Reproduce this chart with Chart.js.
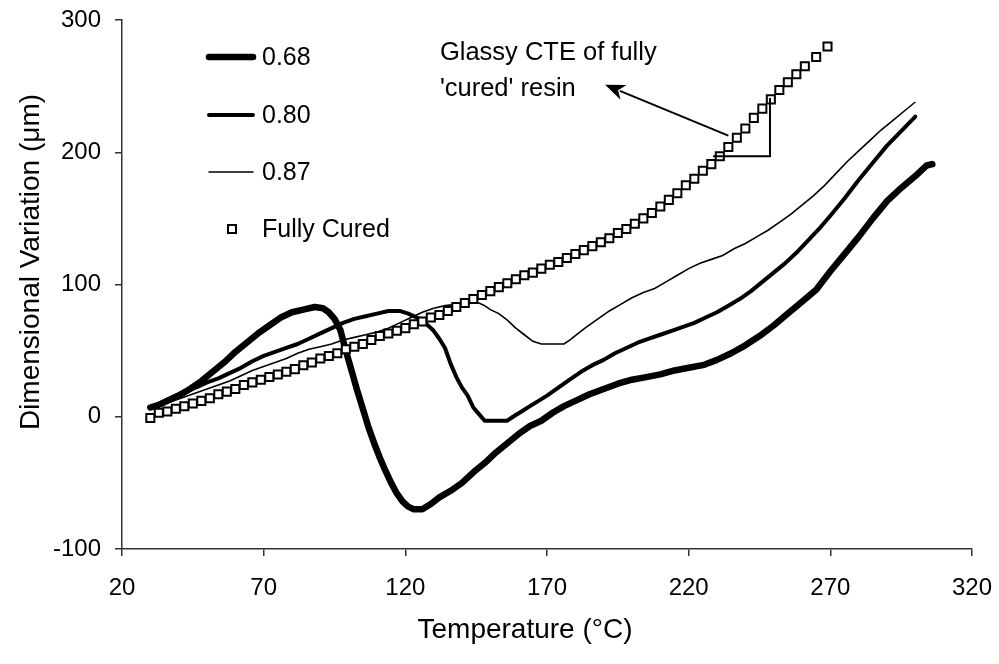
<!DOCTYPE html>
<html>
<head>
<meta charset="utf-8">
<script src="https://cdn.jsdelivr.net/npm/chart.js@4/dist/chart.umd.min.js"></script>
<style>
  html, body { margin: 0; padding: 0; background: #fff; }
  canvas { display: block; }
</style>
</head>
<body>
<canvas id="c" width="999" height="664"></canvas>
<script>
// ---- Data ----
const seriesNames = ['0.68', '0.80', '0.87', 'Fully Cured'];

const t068 = [30,33,36,40,44,48,52,56,60,64,68,72,76,80,84,88,91,93,95,97,99,101,103,105,107,109,111,113,115,117,119,121,123,126,129,132,136,140,144,148,152,156,160,164,168,172,176,180,185,190,195,200,205,210,215,220,225,230,235,240,245,250,255,260,265,270,275,280,285,290,295,300,304,306];
const d068 = [7,9,12,16,21,27,34,41,49,56,63,69,75,79,81,83,82,79,74,66,50,35,20,6,-8,-20,-31,-41,-50,-58,-64,-68,-70,-70,-66,-61,-56,-50,-42,-35,-27,-20,-13,-7,-3,3,8,12,17,21,25,28,30,32,35,37,39,43,48,54,61,69,78,87,96,110,123,136,150,163,173,182,190,191];

const t080 = [30,34,38,42,46,50,54,58,62,66,70,74,78,82,86,90,94,98,102,106,110,114,118,121,124,127,130,132,134,136,138,140,142,144,146,148,152,156,158,161,164,167,170,174,178,182,186,190,194,198,202,206,210,214,218,222,226,230,234,238,242,246,250,254,258,262,266,270,275,280,285,290,295,300];
const d080 = [7,11,15,19,22,26,29,33,37,42,46,49,52,55,59,63,67,71,74,76,78,80,80,78,75,71,65,59,52,40,30,22,16,7,2,-3,-3,-3,0,4,8,12,16,22,28,34,39,43,48,52,56,59,62,65,68,71,75,79,84,89,95,102,109,116,124,133,142,152,165,179,192,205,216,227];

const t087 = [30,34,38,42,46,50,54,58,62,66,70,74,78,82,86,90,94,98,102,106,110,114,118,122,126,130,134,138,142,146,148,150,153,156,159,162,165,168,172,176,178,181,184,188,192,196,200,204,208,212,216,220,224,228,232,236,240,244,248,252,256,260,264,268,272,276,280,284,288,292,296,300];
const d087 = [6,9,12,15,18,21,24,27,31,35,38,41,44,48,51,53,55,58,60,62,64,67,71,75,79,82,84,85,86,86,84,81,78,73,67,62,57,55,55,55,58,63,68,74,80,85,90,94,97,102,107,112,116,119,122,127,131,136,141,147,153,160,167,175,184,193,201,209,217,224,231,238];

const tCured = [30,33,36,39,42,45,48,51,54,57,60,63,66,69,72,75,78,81,84,87,90,93,96,99,102,105,108,111,114,117,120,123,126,129,132,135,138,141,144,147,150,153,156,159,162,165,168,171,174,177,180,183,186,189,192,195,198,201,204,207,210,213,216,219,222,225,228,231,234,237,240,243,246,249,252,255,258,261,265,269];
const dCured = [-1,3,4,6,8,10,12,14,17,19,21,24,26,28,30,32,34,36,39,41,44,46,48,51,53,55,58,61,63,65,67,70,72,75,77,80,83,86,89,92,95,98,101,104,107,109,112,115,117,120,123,126,129,132,135,139,142,146,150,154,159,164,169,175,180,186,191,197,204,211,218,226,233,240,247,253,259,265,272,280];

const xTicks = [20, 70, 120, 170, 220, 270, 320];
const yTicks = [-100, 0, 100, 200, 300];

// annotation geometry in data units
const arrowFrom = [234, 212.6];
const arrowTo = [190.5, 251];
const bracketX = [228.6, 248.7];
const bracketY = [197, 241];
const noteLines = ['Glassy CTE of fully', "'cured' resin"];
const noteAt = [132.2, 270, 242.8];

const pts = (xs, ys) => xs.map((x, i) => ({ x: x, y: ys[i] }));

const FONT = "'Liberation Sans', Arial, Helvetica, sans-serif";

const extras = {
  id: 'extras',
  afterDatasetsDraw(chart) {
    const ctx = chart.ctx;
    const xs = chart.scales.x, ys = chart.scales.y;
    ctx.save();
    ctx.strokeStyle = '#000';
    ctx.fillStyle = '#000';
    // bracket
    ctx.lineWidth = 2;
    ctx.beginPath();
    ctx.moveTo(xs.getPixelForValue(bracketX[0]), ys.getPixelForValue(bracketY[0]));
    ctx.lineTo(xs.getPixelForValue(bracketX[1]), ys.getPixelForValue(bracketY[0]));
    ctx.lineTo(xs.getPixelForValue(bracketX[1]), ys.getPixelForValue(bracketY[1]));
    ctx.stroke();
    // arrow
    const x1 = xs.getPixelForValue(arrowFrom[0]), y1 = ys.getPixelForValue(arrowFrom[1]);
    const x2 = xs.getPixelForValue(arrowTo[0]), y2 = ys.getPixelForValue(arrowTo[1]);
    const ang = Math.atan2(y2 - y1, x2 - x1);
    const hl = 20, hw = 8;
    const bx = x2 - hl * Math.cos(ang), by = y2 - hl * Math.sin(ang);
    ctx.beginPath();
    ctx.moveTo(x1, y1);
    ctx.lineTo(bx + 4 * Math.cos(ang), by + 4 * Math.sin(ang));
    ctx.stroke();
    ctx.beginPath();
    ctx.moveTo(x2, y2);
    ctx.lineTo(bx + hw * Math.sin(ang), by - hw * Math.cos(ang));
    ctx.lineTo(bx + 6 * Math.cos(ang), by + 6 * Math.sin(ang));
    ctx.lineTo(bx - hw * Math.sin(ang), by + hw * Math.cos(ang));
    ctx.closePath();
    ctx.fill();
    // note text
    ctx.font = '25.5px ' + FONT;
    ctx.textAlign = 'left';
    ctx.textBaseline = 'alphabetic';
    ctx.fillText(noteLines[0], xs.getPixelForValue(noteAt[0]), ys.getPixelForValue(noteAt[1]));
    ctx.fillText(noteLines[1], xs.getPixelForValue(noteAt[0]), ys.getPixelForValue(noteAt[2]));

    // legend
    const widths = [6.5, 4, 1.5];
    const ly = [57, 115, 172, 229];
    ctx.lineCap = 'round';
    for (let i = 0; i < 3; i++) {
      ctx.lineWidth = widths[i];
      ctx.beginPath();
      ctx.moveTo(209, ly[i]);
      ctx.lineTo(253, ly[i]);
      ctx.stroke();
    }
    ctx.lineWidth = 2;
    ctx.fillStyle = '#fff';
    ctx.fillRect(228, 225, 8, 8);
    ctx.strokeRect(228, 225, 8, 8);
    ctx.fillStyle = '#000';
    ctx.textBaseline = 'middle';
    ctx.font = '25px ' + FONT;
    for (let i = 0; i < 4; i++) {
      ctx.fillText(seriesNames[i], 262, ly[i] + 1);
    }

    // axis titles
    ctx.font = '28px ' + FONT;
    ctx.textAlign = 'center';
    ctx.textBaseline = 'middle';
    ctx.fillText('Temperature (°C)', 525, 630);
    ctx.translate(31, 262);
    ctx.rotate(-Math.PI / 2);
    ctx.fillText('Dimensional Variation (μm)', 0, 0);
    ctx.restore();
  }
};

new Chart(document.getElementById('c'), {
  type: 'scatter',
  data: {
    datasets: [
      { label: seriesNames[3], data: pts(tCured, dCured), showLine: false,
        pointStyle: 'rect', pointRadius: 5.7, pointBorderWidth: 2,
        pointBackgroundColor: '#fff', pointBorderColor: '#000', order: 0 },
      { label: seriesNames[2], data: pts(t087, d087), showLine: true,
        borderColor: '#000', borderWidth: 1.6, pointRadius: 0, tension: 0, order: 1 },
      { label: seriesNames[1], data: pts(t080, d080), showLine: true,
        borderColor: '#000', borderWidth: 4, pointRadius: 0, tension: 0, order: 2,
        borderJoinStyle: 'round', borderCapStyle: 'round' },
      { label: seriesNames[0], data: pts(t068, d068), showLine: true,
        borderColor: '#000', borderWidth: 6.5, pointRadius: 0, tension: 0, order: 3,
        borderJoinStyle: 'round', borderCapStyle: 'round' }
    ]
  },
  options: {
    responsive: false,
    animation: false,
    devicePixelRatio: 1,
    layout: { padding: { top: 20, right: 27, left: 0, bottom: 0 } },
    plugins: { legend: { display: false }, tooltip: { enabled: false } },
    scales: {
      x: {
        type: 'linear', min: 20, max: 320,
        afterBuildTicks: (s) => { s.ticks = xTicks.map(v => ({ value: v })); },
        afterFit: (s) => { s.height = 115; s.paddingLeft = 0; s.paddingRight = 0; },
        grid: { drawOnChartArea: false, drawTicks: true, tickLength: 7, color: '#333', lineWidth: 1.5 },
        border: { display: true, color: '#333', width: 1.5 },
        ticks: { color: '#000', padding: 18, maxRotation: 0, font: { family: FONT, size: 24 } }
      },
      y: {
        type: 'linear', min: -100, max: 300,
        afterBuildTicks: (s) => { s.ticks = yTicks.map(v => ({ value: v })); },
        afterFit: (s) => { s.width = 122; s.paddingTop = 0; s.paddingBottom = 0; },
        grid: { drawOnChartArea: false, drawTicks: true, tickLength: 7, color: '#333', lineWidth: 1.5 },
        border: { display: true, color: '#333', width: 1.5 },
        ticks: { color: '#000', padding: 14, font: { family: FONT, size: 24 } }
      }
    }
  },
  plugins: [extras]
});
</script>
</body>
</html>
